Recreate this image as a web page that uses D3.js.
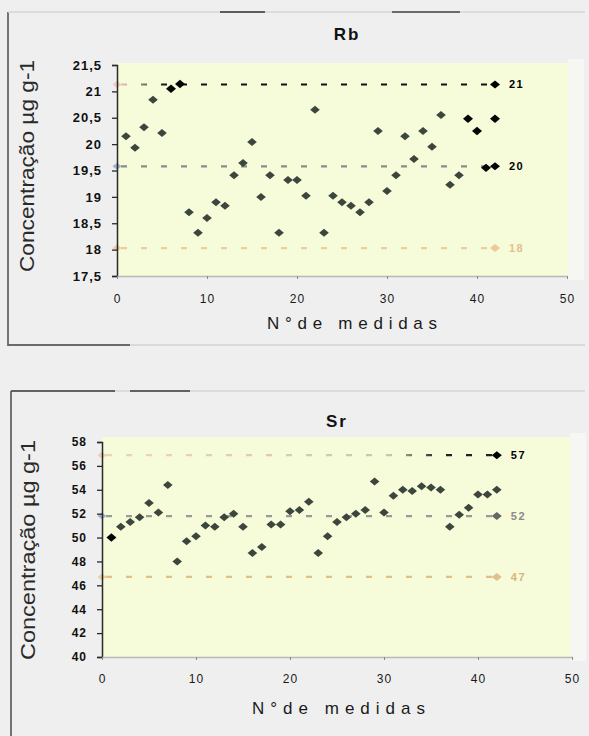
<!DOCTYPE html>
<html>
<head>
<meta charset="utf-8">
<script src="https://cdn.jsdelivr.net/npm/d3@7"></script>
<style>
  body { margin: 0; background: #efefef; }
  svg { display: block; font-family: "Liberation Sans", Arial, sans-serif; }
</style>
</head>
<body>
<script>

// measurement number = index + 1
var rbValues = [20.15, 19.93, 20.32, 20.84, 20.21, 21.05, 21.14, 18.71, 18.32, 18.60,
                18.90, 18.83, 19.41, 19.64, 20.04, 19.00, 19.41, 18.32, 19.32, 19.32,
                19.02, 20.65, 18.32, 19.02, 18.90, 18.83, 18.71, 18.90, 20.25, 19.11,
                19.41, 20.15, 19.72, 20.25, 19.95, 20.55, 19.23, 19.41, 20.48, 20.25,
                19.55, 20.48]
var rbBlack = [6, 7, 39, 40, 41, 42]
var rbLimits = [21.13, 19.58, 18.03]
var rbLimitLabels = ["21", "20", "18"]
var rbTicks = [17.5, 18, 18.5, 19, 19.5, 20, 20.5, 21, 21.5]
var rbTickLabels = ["17,5", "18", "18,5", "19", "19,5", "20", "20,5", "21", "21,5"]

var srValues = [50.0, 50.9, 51.3, 51.7, 52.9, 52.1, 54.4, 48.0, 49.7, 50.1,
                51.0, 50.9, 51.7, 52.0, 50.9, 48.7, 49.2, 51.1, 51.1, 52.2,
                52.3, 53.0, 48.7, 50.1, 51.3, 51.7, 52.0, 52.3, 54.7, 52.1,
                53.5, 54.0, 53.9, 54.3, 54.2, 54.0, 50.9, 51.9, 52.5, 53.6,
                53.6, 54.0]
var srBlack = [1]
var srLimits = [56.9, 51.8, 46.7]
var srLimitLabels = ["57", "52", "47"]
var srTicks = [40, 42, 44, 46, 48, 50, 52, 54, 56, 58]
var srTickLabels = ["40", "42", "44", "46", "48", "50", "52", "54", "56", "58"]

var xTicks = [0, 10, 20, 30, 40, 50]
var xTickLabels = ["0", "10", "20", "30", "40", "50"]
var lastMeasure = 42

var width = 589, height = 736

// squat diamond like the excel marker
function marker(w, h) {
  return "M" + (-w) + ",0L0," + (-h) + "L" + w + ",0L0," + h + "Z"
}

var svg = d3.select("body").append("svg")
    .attr("width", width)
    .attr("height", height)

var defs = svg.append("defs")

// scanned frame lines
var frame = svg.append("g")
frame.append("line").attr("x1", 8).attr("x2", 8).attr("y1", 12).attr("y2", 346)
    .style("stroke", "#4a4a4a").style("stroke-width", 1.5)
frame.append("line").attr("x1", 8).attr("x2", 585).attr("y1", 12).attr("y2", 12)
    .style("stroke", "#d6d6d6").style("stroke-width", 1.5)
frame.append("line").attr("x1", 220).attr("x2", 265).attr("y1", 12).attr("y2", 12)
    .style("stroke", "#333").style("stroke-width", 1.5)
frame.append("line").attr("x1", 392).attr("x2", 460).attr("y1", 12).attr("y2", 12)
    .style("stroke", "#444").style("stroke-width", 1.5)
frame.append("line").attr("x1", 8).attr("x2", 585).attr("y1", 345).attr("y2", 345)
    .style("stroke", "#d2d2d2").style("stroke-width", 1.5)
frame.append("line").attr("x1", 8).attr("x2", 130).attr("y1", 345).attr("y2", 345)
    .style("stroke", "#444").style("stroke-width", 1.5)
frame.append("line").attr("x1", 11).attr("x2", 11).attr("y1", 391).attr("y2", 736)
    .style("stroke", "#4a4a4a").style("stroke-width", 1.5)
frame.append("line").attr("x1", 11).attr("x2", 585).attr("y1", 391).attr("y2", 391)
    .style("stroke", "#d6d6d6").style("stroke-width", 1.5)
frame.append("line").attr("x1", 11).attr("x2", 115).attr("y1", 391).attr("y2", 391)
    .style("stroke", "#3a3a3a").style("stroke-width", 1.5)
frame.append("line").attr("x1", 130).attr("x2", 190).attr("y1", 391).attr("y2", 391)
    .style("stroke", "#3a3a3a").style("stroke-width", 1.5)


var panels = [
  { id: "rb", title: "Rb", values: rbValues, black: rbBlack, limits: rbLimits,
    limitLabels: rbLimitLabels, ticks: rbTicks, tickLabels: rbTickLabels,
    x0: 117, x1: 567, yTop: 65, yBottom: 276, plotTop: 63, plotRight: 568,
    domain: [17.5, 21.5], yFont: 13, titleX: 347, titleY: 40, xLabelY: 329, xTickY: 303,
    xLabelX: 267, xLabelLen: 170, yTitleX: 27, yTitleY: 166, yTitleLen: 212,
    limitColors: ["#1c1c1c", "#8c8c8c", "#e9cf9c"],
    limitStart: ["#f3bdb3", "#8ea2c6", "#f1bf95"],
    limitEnd: ["#000", "#000", "#efc995"],
    labelColors: ["#000", "#000", "#e5c08c"],
    fadeTo: 6 },
  { id: "sr", title: "Sr", values: srValues, black: srBlack, limits: srLimits,
    limitLabels: srLimitLabels, ticks: srTicks, tickLabels: srTickLabels,
    x0: 102, x1: 572, yTop: 442, yBottom: 657, plotTop: 437, plotRight: 570,
    domain: [40, 58], yFont: 12, titleX: 337, titleY: 427, xLabelY: 714, xTickY: 683,
    xLabelX: 252, xLabelLen: 173, yTitleX: 28, yTitleY: 550, yTitleLen: 220,
    limitColors: ["#cbc4ae", "#9a9a9a", "#e3bf88"],
    limitStart: ["#e9c8a0", "#8ea0c2", "#e6c49a"],
    limitEnd: ["#000", "#666", "#e2c08e"],
    labelColors: ["#000", "#8a8a8a", "#d9b47c"],
    fadeTo: 36 }
]

panels.forEach(function(p) {

  var x = d3.scaleLinear().domain([0, 50]).range([p.x0, p.x1])
  var y = d3.scaleLinear().domain(p.domain).range([p.yBottom, p.yTop])

  var g = svg.append("g").attr("class", "panel-" + p.id)

  // plot area
  g.append("rect")
    .attr("x", p.x0)
    .attr("y", p.plotTop)
    .attr("width", p.plotRight - p.x0)
    .attr("height", p.yBottom - p.plotTop)
    .style("fill", "#f6fbda")
  g.append("rect")
    .attr("x", p.plotRight)
    .attr("y", p.plotTop - 4)
    .attr("width", 16)
    .attr("height", p.yBottom - p.plotTop + 8)
    .style("fill", "#f6f6f3")

  // upper limit line fades from light to dark
  var grad = defs.append("linearGradient")
    .attr("id", "fade-" + p.id)
    .attr("gradientUnits", "userSpaceOnUse")
    .attr("x1", x(0)).attr("x2", x(p.fadeTo))
    .attr("y1", 0).attr("y2", 0)
  grad.append("stop").attr("offset", 0).attr("stop-color", p.limitStart[0]).attr("stop-opacity", 0.7)
  grad.append("stop").attr("offset", 0.85).attr("stop-color", p.limitColors[0])
  grad.append("stop").attr("offset", 1).attr("stop-color", p.id == "rb" ? "#111" : "#222")

  var line = d3.line()
    .x(function(d) { return x(d[0]) })
    .y(function(d) { return y(d[1]) })

  p.limits.forEach(function(v, i) {
    g.append("path")
      .datum([[0, v], [lastMeasure, v]])
      .attr("d", line)
      .style("fill", "none")
      .style("stroke", i == 0 ? "url(#fade-" + p.id + ")" : p.limitColors[i])
      .style("stroke-width", 2.2)
      .style("stroke-dasharray", "6,14")
      .style("stroke-dashoffset", -4)

    g.append("path")
      .attr("d", marker(4.5, 3.5))
      .attr("transform", "translate(" + x(0) + "," + y(v) + ")")
      .style("fill", p.limitStart[i])
      .style("opacity", 0.8)

    g.append("path")
      .attr("d", marker(5, 4))
      .attr("transform", "translate(" + x(lastMeasure) + "," + y(v) + ")")
      .style("fill", p.limitEnd[i])

    g.append("text")
      .attr("x", x(lastMeasure) + 14)
      .attr("y", y(v))
      .attr("dy", "0.35em")
      .style("font-size", "11px")
      .style("font-weight", "bold")
      .style("letter-spacing", "1.5px")
      .style("fill", p.labelColors[i])
      .text(p.limitLabels[i])
  })

  // y axis
  var yAxis = d3.axisLeft(y)
    .tickValues(p.ticks)
    .tickFormat(function(d, i) { return p.tickLabels[i] })
    .tickSize(5)
    .tickSizeOuter(5)
    .tickPadding(10)
  var ya = g.append("g")
    .attr("transform", "translate(" + p.x0 + ",0)")
    .call(yAxis)
  ya.select(".domain").style("stroke", "#2a2a2a").style("stroke-width", 1.5)
  ya.selectAll(".tick line").style("stroke", "#2a2a2a").style("stroke-width", 1.3)
  ya.selectAll("text")
    .style("font-size", p.yFont + "px")
    .style("font-weight", "bold")
    .style("letter-spacing", "1px")
    .style("font-family", "Liberation Sans, Arial, sans-serif")
    .style("fill", "#111")

  // x axis
  var xAxis = d3.axisBottom(x)
    .tickValues(xTicks)
    .tickFormat(function(d, i) { return xTickLabels[i] })
    .tickSize(3)
    .tickSizeOuter(0)
    .tickPadding(p.xTickY - p.yBottom - 12)
  var xa = g.append("g")
    .attr("transform", "translate(0," + p.yBottom + ")")
    .call(xAxis)
  xa.select(".domain").style("stroke", "#b9b9b9").style("stroke-width", 1.5)
  xa.selectAll(".tick line").style("stroke", "#888")
  xa.selectAll("text")
    .style("font-size", "12px")
    .style("letter-spacing", "1px")
    .style("font-family", "Liberation Sans, Arial, sans-serif")
    .style("fill", "#1a1a1a")

  // data points
  g.selectAll(".pt")
    .data(p.values)
    .enter().append("path")
      .attr("class", "pt")
      .attr("d", function(d, i) {
        return p.black.indexOf(i + 1) >= 0 ? marker(5, 4.2) : marker(4.8, 4)
      })
      .attr("transform", function(d, i) {
        return "translate(" + x(i + 1) + "," + y(d) + ")"
      })
      .style("fill", function(d, i) {
        return p.black.indexOf(i + 1) >= 0 ? "#050505" : "#3c463c"
      })

  // titles
  g.append("text")
    .attr("x", p.titleX)
    .attr("y", p.titleY)
    .attr("text-anchor", "middle")
    .style("font-size", "17px")
    .style("font-weight", "bold")
    .style("letter-spacing", "2px")
    .style("fill", "#111")
    .text(p.title)

  g.append("text")
    .attr("x", p.xLabelX)
    .attr("y", p.xLabelY)
    .attr("textLength", p.xLabelLen)
    .attr("lengthAdjust", "spacing")
    .style("font-size", "17px")
    .style("fill", "#1a1a1a")
    .text("N°de medidas")

  g.append("text")
    .attr("transform", "translate(" + p.yTitleX + "," + p.yTitleY + ") rotate(-90)")
    .attr("text-anchor", "middle")
    .attr("dy", "0.35em")
    .attr("textLength", p.yTitleLen)
    .attr("lengthAdjust", "spacingAndGlyphs")
    .style("font-size", "21px")
    .style("fill", "#2a2a2a")
    .text("Concentração µg g-1")
})

</script>
</body>
</html>
